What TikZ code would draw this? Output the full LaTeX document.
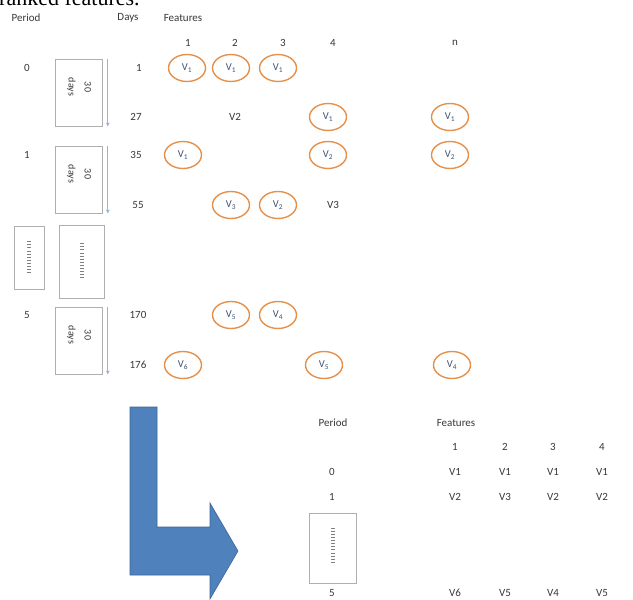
\documentclass[tikz,border=0pt]{standalone}
\usepackage{fontspec}
\setmainfont{Carlito}
\newfontfamily\bodyfont{Liberation Serif}
\usepackage{tikz}
\usetikzlibrary{arrows.meta,positioning,shapes.geometric}
\definecolor{featorange}{RGB}{230,145,75}
\definecolor{arrowblue}{RGB}{79,129,189}
\definecolor{arrowedge}{RGB}{60,100,150}
\definecolor{daysblue}{RGB}{150,180,218}
\definecolor{boxgray}{RGB}{175,175,175}
\definecolor{txtgray}{RGB}{55,55,55}
\definecolor{vblue}{RGB}{60,80,115}

\begin{document}
\begin{tikzpicture}[
    x=1pt,y=-1pt,
    lbl/.style={font=\fontsize{11}{13}\selectfont, text=txtgray, inner sep=1pt},
    feat/.style={ellipse, draw=featorange, line width=1.4pt, fill=white,
                 minimum width=37pt, minimum height=27pt, inner sep=0pt,
                 font=\fontsize{10.5}{12}\selectfont, text=vblue},
    daybox/.style={draw=boxgray, line width=0.6pt, minimum width=47pt,
                   minimum height=67pt, inner sep=0pt},
    dotbox/.style={draw=boxgray, line width=0.6pt, inner sep=0pt},
    daytext/.style={rotate=-90, align=center, font=\fontsize{10}{16}\selectfont, text=txtgray},
    dayarrow/.style={-{Latex[length=4pt,width=4pt]}, daysblue, line width=1.2pt},
    dots/.style={draw=gray, line width=4pt, dash pattern=on 0.7pt off 2.4pt}
]
\useasboundingbox (0,0) rectangle (633,600);

% cut-off caption line above the figure
\node[anchor=base west, inner sep=0pt, font=\bodyfont\fontsize{22}{24}\selectfont] (caption) at (-1,5) {ranked features.};

% headers
\node[lbl] (hperiod) at (26,18) {Period};
\node[lbl] (hdays) at (128,18) {Days};
\node[lbl] (hfeat) at (183,18) {Features};
\node[lbl] (c1) at (188,43) {1};
\node[lbl] (c2) at (235,43) {2};
\node[lbl] (c3) at (283,43) {3};
\node[lbl] (c4) at (333,43) {4};
\node[lbl] (cn) at (455,43) {n};

% periods
\node[lbl] (p0) at (27,68) {0};
\node[lbl] (p1) at (27,155) {1};
\node[lbl] (p5) at (27,315) {5};

% 30 day windows
\node[daybox] (w0) at (79,93) {};
\node[daytext] (t0) at ([yshift=6pt]w0.center) {30\\days};
\draw[dayarrow] ([xshift=5pt]w0.north east) -- ([xshift=5pt]w0.south east);
\node[daybox] (w1) at (79,180) {};
\node[daytext] (t1) at ([yshift=6pt]w1.center) {30\\days};
\draw[dayarrow] ([xshift=5pt]w1.north east) -- ([xshift=5pt]w1.south east);
\node[daybox] (w5) at (79,341) {};
\node[daytext] (t5) at ([yshift=6pt]w5.center) {30\\days};
\draw[dayarrow] ([xshift=5pt]w5.north east) -- ([xshift=5pt]w5.south east);

% skipped periods
\node[dotbox, minimum width=30pt, minimum height=63pt] (skipp) at (29,258) {};
\draw[dots] ([yshift=-15pt]skipp.north) -- ([yshift=17pt]skipp.south);
\node[dotbox, minimum width=45pt, minimum height=73pt] (skipw) at (82,262) {};
\draw[dots] ([yshift=-18pt]skipw.north) -- ([yshift=20pt]skipw.south);

% days
\node[lbl] (d1) at (139,68) {1};
\node[lbl] (d27) at (136,117) {27};
\node[lbl] (d35) at (136,155) {35};
\node[lbl] (d55) at (138,205) {55};
\node[lbl] (d170) at (138,315) {170};
\node[lbl] (d176) at (138,365) {176};

% ranked features per day
\node[feat] (f1a) at (187,68) {V\textsubscript{1}};
\node[feat] (f1b) at (231,68) {V\textsubscript{1}};
\node[feat] (f1c) at (278,68) {V\textsubscript{1}};

\node[lbl] (f27b) at (235,117) {V2};
\node[feat] (f27d) at (328,117) {V\textsubscript{1}};
\node[feat] (f27n) at (450,117) {V\textsubscript{1}};

\node[feat] (f35a) at (183,155) {V\textsubscript{1}};
\node[feat] (f35d) at (328,155) {V\textsubscript{2}};
\node[feat] (f35n) at (450,155) {V\textsubscript{2}};

\node[feat] (f55b) at (231,205) {V\textsubscript{3}};
\node[feat] (f55c) at (278,205) {V\textsubscript{2}};
\node[lbl] (f55d) at (333,205) {V3};

\node[feat] (f170b) at (231,315) {V\textsubscript{5}};
\node[feat] (f170c) at (278,315) {V\textsubscript{4}};

\node[feat] (f176a) at (183,365) {V\textsubscript{6}};
\node[feat] (f176d) at (324,365) {V\textsubscript{5}};
\node[feat] (f176n) at (452,365) {V\textsubscript{4}};

% big bent arrow
\filldraw[fill=arrowblue, draw=arrowedge, line width=0.6pt]
  (130,407) -- (157,407) -- (157,527) -- (210,527) -- (210,503) -- (238,551)
  -- (210,599) -- (210,575) -- (130,575) -- cycle;

% result table
\node[lbl] (rperiod) at (333,423) {Period};
\node[lbl] (rfeat) at (456,423) {Features};
\node[lbl] (r1) at (455,447) {1};
\node[lbl] (r2) at (505,447) {2};
\node[lbl] (r3) at (553,447) {3};
\node[lbl] (r4) at (602,447) {4};

\node[lbl] (rp0) at (332,472) {0};
\node[lbl] (r01) at (455,472) {V1};
\node[lbl] (r02) at (505,472) {V1};
\node[lbl] (r03) at (553,472) {V1};
\node[lbl] (r04) at (602,472) {V1};

\node[lbl] (rp1) at (332,497) {1};
\node[lbl] (r11) at (455,497) {V2};
\node[lbl] (r12) at (505,497) {V3};
\node[lbl] (r13) at (553,497) {V2};
\node[lbl] (r14) at (602,497) {V2};

\node[dotbox, minimum width=47pt, minimum height=70pt] (rskip) at (333,548) {};
\draw[dots] ([yshift=-15pt]rskip.north) -- ([yshift=20pt]rskip.south);

\node[lbl] (rp5) at (332,593) {5};
\node[lbl] (r51) at (455,593) {V6};
\node[lbl] (r52) at (505,593) {V5};
\node[lbl] (r53) at (553,593) {V4};
\node[lbl] (r54) at (602,593) {V5};
\end{tikzpicture}
\end{document}
